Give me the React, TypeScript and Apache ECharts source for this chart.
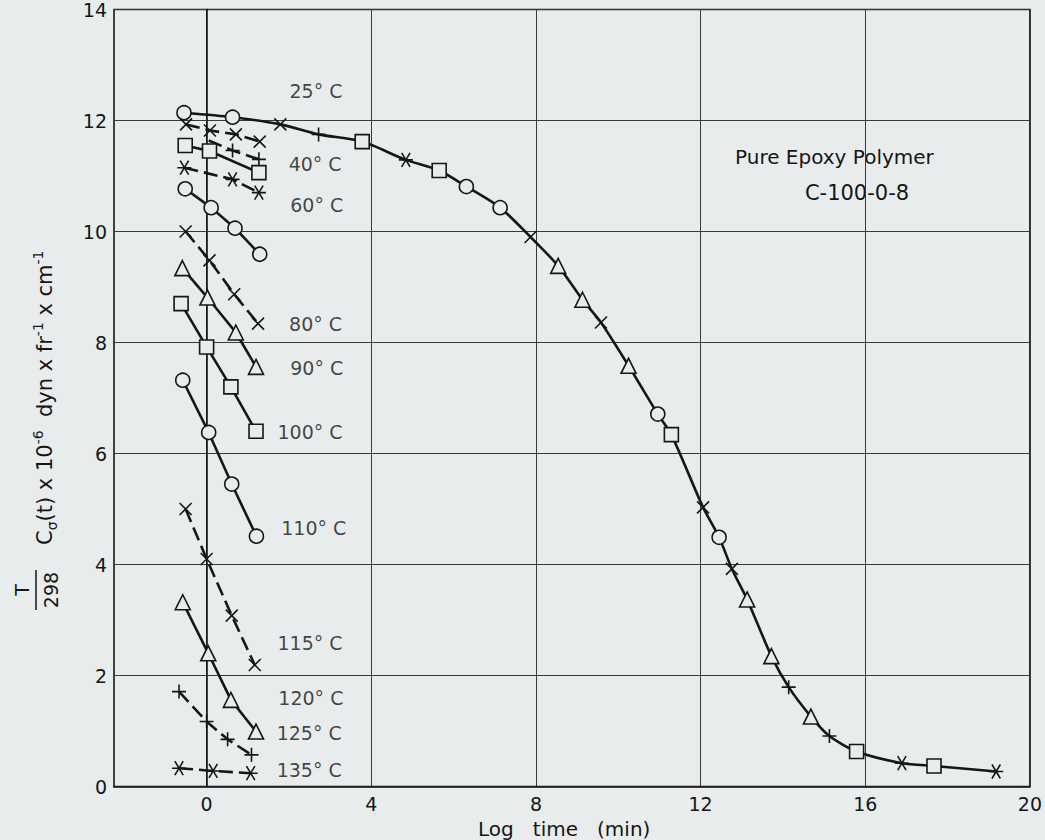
import React, { useEffect, useRef } from "react";
import * as echarts from "echarts";

const BG = "#e8ecec";
const INK = "#161616";
const FONT = "DejaVu Sans";

// Tick values
const xTicks = [0, 4, 8, 12, 16, 20];

// Master (reduced) curve
const masterX = [-0.55, 0.63, 1.79, 2.72, 3.78, 4.84, 5.65, 6.31, 7.13, 7.87, 8.54, 9.13, 9.58, 10.25, 10.96, 11.29, 12.06, 12.45, 12.76, 13.13, 13.72, 14.14, 14.68, 15.13, 15.79, 16.89, 17.67, 19.18];
const masterY = [12.14, 12.06, 11.93, 11.75, 11.62, 11.29, 11.1, 10.81, 10.43, 9.9, 9.38, 8.77, 8.36, 7.58, 6.71, 6.34, 5.03, 4.49, 3.92, 3.37, 2.35, 1.79, 1.26, 0.91, 0.63, 0.42, 0.37, 0.27];
const masterMarks = ["o", "o", "x", "p", "s", "a", "s", "o", "o", "x", "t", "t", "x", "t", "o", "s", "x", "o", "x", "t", "t", "p", "t", "p", "s", "a", "s", "a"];

// Short-time isotherms
const crossAX = [-0.5, 0.08, 0.71, 1.29];
const crossAY = [11.93, 11.82, 11.75, 11.62];
const plusAX = [0.05, 0.63, 1.27];
const plusAY = [11.64, 11.46, 11.3];
const squareAX = [-0.52, 0.07, 1.27];
const squareAY = [11.55, 11.45, 11.06];
const starAX = [-0.54, 0.63, 1.27];
const starAY = [11.15, 10.94, 10.7];
const circleAX = [-0.52, 0.11, 0.69, 1.29];
const circleAY = [10.77, 10.43, 10.06, 9.59];
const cross80X = [-0.51, 0.07, 0.67, 1.25];
const cross80Y = [10.0, 9.48, 8.87, 8.34];
const tri90X = [-0.59, 0.02, 0.71, 1.2];
const tri90Y = [9.34, 8.81, 8.18, 7.56];
const square100X = [-0.62, 0.0, 0.59, 1.2];
const square100Y = [8.7, 7.92, 7.2, 6.4];
const circle110X = [-0.58, 0.05, 0.61, 1.21];
const circle110Y = [7.32, 6.38, 5.45, 4.51];
const cross115X = [-0.51, 0.0, 0.61, 1.17];
const cross115Y = [5.0, 4.1, 3.08, 2.19];
const tri120X = [-0.58, 0.04, 0.59, 1.2];
const tri120Y = [3.32, 2.4, 1.56, 0.99];
const plus125X = [-0.67, 0.0, 0.51, 1.09];
const plus125Y = [1.71, 1.17, 0.85, 0.57];
const star135X = [-0.67, 0.16, 1.07];
const star135Y = [0.33, 0.28, 0.24];

// Temperature labels
const labelText = ["25° C", "40° C", "60° C", "80° C", "90° C", "100° C", "110° C", "115° C", "120° C", "125° C", "135° C"];
const labelX = [2.0, 1.98, 2.02, 1.99, 2.02, 1.71, 1.8, 1.71, 1.73, 1.69, 1.69];
const labelY = [12.53, 11.21, 10.48, 8.34, 7.54, 6.39, 4.65, 2.58, 1.59, 0.96, 0.3];

const SYM: Record<string, string> = {
  o: "circle",
  s: "rect",
  t: "triangle",
  x: "path://M0,0L10,10M10,0L0,10",
  p: "path://M5,0L5,10M0,5L10,5",
  a: "path://M0,5L10,5M2,0.5L8,9.5M8,0.5L2,9.5",
  n: "none",
};
const SIZE: Record<string, number> = { o: 14, s: 14, t: 15, x: 12, p: 14, a: 14, n: 0 };

const shortSeries = [
  { name: "x-a", x: crossAX, y: crossAY, mark: "x", dashed: true, bare: -1 },
  { name: "plus-a", x: plusAX, y: plusAY, mark: "p", dashed: true, bare: 0 },
  { name: "square-a", x: squareAX, y: squareAY, mark: "s", dashed: false, bare: -1 },
  { name: "star-a", x: starAX, y: starAY, mark: "a", dashed: true, bare: -1 },
  { name: "circle-a", x: circleAX, y: circleAY, mark: "o", dashed: false, bare: -1 },
  { name: "80", x: cross80X, y: cross80Y, mark: "x", dashed: true, bare: -1 },
  { name: "90", x: tri90X, y: tri90Y, mark: "t", dashed: false, bare: -1 },
  { name: "100", x: square100X, y: square100Y, mark: "s", dashed: false, bare: -1 },
  { name: "110", x: circle110X, y: circle110Y, mark: "o", dashed: false, bare: -1 },
  { name: "115", x: cross115X, y: cross115Y, mark: "x", dashed: true, bare: -1 },
  { name: "120", x: tri120X, y: tri120Y, mark: "t", dashed: false, bare: -1 },
  { name: "125", x: plus125X, y: plus125Y, mark: "p", dashed: true, bare: -1 },
  { name: "135", x: star135X, y: star135Y, mark: "a", dashed: true, bare: -1 },
];

const markerStyle = { color: BG, borderColor: INK, borderWidth: 1.6 };

export default function App() {
  const ref = useRef<HTMLDivElement>(null);
  useEffect(() => {
    if (!ref.current) return;
    const chart = echarts.init(ref.current, null, { renderer: "svg" });

    const series: any[] = [];
    series.push({
      name: "master",
      type: "line",
      smooth: 0.25,
      z: 3,
      lineStyle: { color: INK, width: 2.6 },
      itemStyle: markerStyle,
      data: masterX.map((x, i) => ({
        value: [x, masterY[i]],
        symbol: SYM[masterMarks[i]],
        symbolSize: SIZE[masterMarks[i]],
      })),
    });
    shortSeries.forEach((s) => {
      series.push({
        name: s.name,
        type: "line",
        z: 3,
        lineStyle: { color: INK, width: 2.6, type: s.dashed ? [14, 6] : "solid" },
        itemStyle: markerStyle,
        data: s.x.map((x, i) => ({
          value: [x, s.y[i]],
          symbol: i === s.bare ? "none" : SYM[s.mark],
          symbolSize: i === s.bare ? 0 : SIZE[s.mark],
        })),
      });
    });
    series.push({
      name: "labels",
      type: "scatter",
      symbolSize: 1,
      itemStyle: { color: "transparent" },
      label: {
        show: true,
        position: "right",
        distance: 0,
        formatter: "{b}",
        fontSize: 19,
        fontFamily: FONT,
        color: INK,
      },
      data: labelX.map((x, i) => ({ value: [x, labelY[i]], name: labelText[i] })),
    });

    chart.setOption({
      animation: false,
      backgroundColor: BG,
      grid: {
        left: 114,
        right: 10,
        top: 8,
        bottom: 53.5,
        show: true,
        borderColor: INK,
        borderWidth: 1.6,
      },
      xAxis: {
        type: "value",
        min: -2.25,
        max: 20,
        axisLine: { show: true, onZero: false, lineStyle: { color: INK, width: 1.6 } },
        axisTick: { show: false, customValues: xTicks },
        axisLabel: { customValues: xTicks, fontSize: 19, fontFamily: FONT, color: INK, margin: 8 },
        splitLine: { show: true, lineStyle: { color: "#3a3a3a", width: 1 } },
      },
      yAxis: {
        type: "value",
        min: 0,
        max: 14,
        interval: 2,
        axisLine: { show: true, lineStyle: { color: INK, width: 1.6 } },
        axisTick: { show: false },
        axisLabel: { fontSize: 19, fontFamily: FONT, color: INK, margin: 7 },
        splitLine: { show: true, lineStyle: { color: "#3a3a3a", width: 1 } },
      },
      graphic: [
        {
          type: "text",
          x: 735,
          y: 157,
          style: { text: "Pure Epoxy Polymer", fontSize: 20, fontFamily: FONT, fill: INK, verticalAlign: "middle", align: "left" },
        },
        {
          type: "text",
          x: 857,
          y: 193,
          style: { text: "C-100-0-8", fontSize: 21, fontFamily: FONT, fill: INK, verticalAlign: "middle", align: "center" },
        },
        {
          type: "text",
          x: 478,
          y: 829,
          style: { text: "Log\u00a0\u00a0\u00a0time\u00a0\u00a0\u00a0(min)", fontSize: 20, fontFamily: FONT, fill: INK, verticalAlign: "middle", align: "left" },
        },
        {
          type: "group",
          x: 36,
          y: 590,
          rotation: Math.PI / 2,
          children: [
            { type: "text", x: 0, y: -14, style: { text: "T", fontSize: 19, fontFamily: FONT, fill: INK, align: "center", verticalAlign: "middle" } },
            { type: "line", shape: { x1: -20, y1: 0, x2: 20, y2: 0 }, style: { stroke: INK, lineWidth: 1.5 } },
            { type: "text", x: 0, y: 15, style: { text: "298", fontSize: 19, fontFamily: FONT, fill: INK, align: "center", verticalAlign: "middle" } },
            {
              type: "text",
              x: 45,
              y: 9,
              style: {
                text: "{m|C}{sub|σ}{m|(t)\u00a0x\u00a010}{sup|-6}{m|\u00a0\u00a0dyn\u00a0x\u00a0fr}{sup|-1}{m|\u00a0x\u00a0cm}{sup|-1}",
                fontFamily: FONT,
                fill: INK,
                align: "left",
                verticalAlign: "middle",
                rich: {
                  m: { fontSize: 21, lineHeight: 28, fontFamily: FONT, fill: INK },
                  sub: { fontSize: 14, lineHeight: 14, verticalAlign: "bottom", fontFamily: FONT, fill: INK },
                  sup: { fontSize: 14, lineHeight: 14, verticalAlign: "top", fontFamily: FONT, fill: INK },
                },
              },
            },
          ],
        },
      ],
      series,
    });
    return () => chart.dispose();
  }, []);
  return <div ref={ref} style={{ position: "fixed", left: 0, top: 0, width: 1045, height: 840 }} />;
}
